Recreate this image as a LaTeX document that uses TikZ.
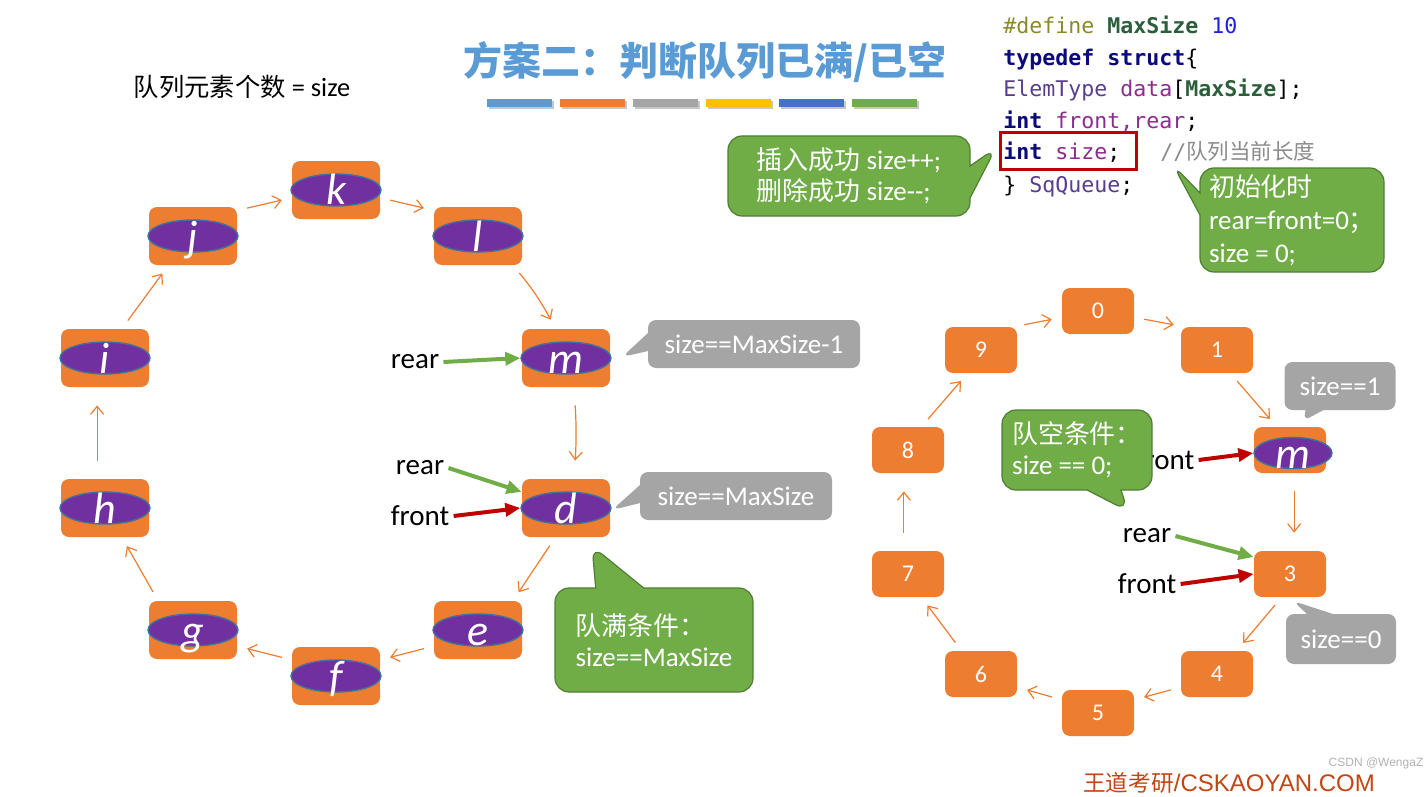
\documentclass[tikz,border=0pt]{standalone}
\usepackage{fontspec}
\setmainfont{Carlito}
\setmonofont{DejaVu Sans Mono}
\newfontfamily\cjk[Scale=0.96]{Noto Sans CJK SC}
\newfontfamily\webfont{Liberation Sans}
\usetikzlibrary{arrows.meta,shapes.geometric,shapes.callouts}
\definecolor{qorange}{HTML}{ED7D31}
\definecolor{qpurple}{HTML}{7030A0}
\definecolor{qedge}{HTML}{41719C}
\definecolor{qgray}{HTML}{A5A5A5}
\definecolor{qgreen}{HTML}{70AD47}
\definecolor{qgreenline}{HTML}{507E32}
\definecolor{qred}{HTML}{C00000}
\definecolor{qtitle}{HTML}{5B9BD5}
\definecolor{qgold}{HTML}{FFC000}
\definecolor{qblue}{HTML}{4472C4}
\definecolor{qbrand}{HTML}{C24614}
\definecolor{cdef}{HTML}{8A8A2A}
\definecolor{cname}{HTML}{2B5E3B}
\definecolor{cnum}{HTML}{1F1FE0}
\definecolor{ckw}{HTML}{0A0A7A}
\definecolor{ctype}{HTML}{5A3E8E}
\definecolor{cvar}{HTML}{8B2D8B}
\definecolor{ccmt}{HTML}{8C8C8C}

\begin{document}
\begin{tikzpicture}[x=0.5pt, y=-0.5pt, >={Straight Barb[length=4pt,width=6.5pt]},
  cell/.style={rectangle, rounded corners=4pt, fill=qorange, minimum width=44pt,
    minimum height=29pt, inner sep=0pt},
  slot/.style={rectangle, rounded corners=4pt, fill=qorange, minimum width=36pt,
    minimum height=23pt, inner sep=0pt, text=white, font=\fontsize{12}{12}\selectfont},
  elem/.style={ellipse, fill=qpurple, draw=qedge, line width=0.7pt, minimum width=45pt,
    minimum height=16pt, inner xsep=0pt, inner ysep=-2pt, text height=15pt, text depth=0pt,
    text=white, font=\itshape\fontsize{22}{22}\selectfont},
  link/.style={->, draw=qorange, line width=0.6pt, shorten <=5pt, shorten >=5pt},
  longlink/.style={link, shorten <=9pt, shorten >=9pt},
  ptr/.style={-{Triangle[length=7.5pt,width=6.5pt]}, line width=2pt},
  tag/.style={font=\fontsize{14.5}{14.5}\selectfont, inner sep=2pt},
  code/.style={anchor=base west, inner sep=0pt, font=\ttfamily\fontsize{10.8}{13}\selectfont},
  greynote/.style={rectangle callout, fill=qgray, text=white, rounded corners=4pt,
    inner sep=0pt, callout pointer width=9pt, font=\fontsize{13.5}{16}\selectfont},
  greennote/.style={rectangle callout, fill=qgreen, draw=qgreenline, line width=0.6pt,
    text=white, rounded corners=7pt, inner sep=0pt, align=left,
    font=\fontsize{13.5}{15.5}\selectfont}]

  \useasboundingbox (0,0) rectangle (1424,797);
  \fill[white] (0,0) rectangle (1424,797);

  % title with the colour bars
  \node[text=qtitle, font=\cjk\bfseries\fontsize{20.3}{20.3}\selectfont] (title) at (705,62)
    {方案二：判断队列已满/已空};
  \foreach \c [count=\k from 0] in {qtitle,qorange,qgray,qgold,qblue,qgreen}{
    \fill[black!22] (489+73*\k,101) rectangle ++(65,8);
    \fill[\c] (487+73*\k,99) rectangle ++(65,8);
  }
  \node[font=\fontsize{13.2}{13.2}\selectfont] (count) at (242,87) {{\cjk 队列元素个数} = size};

  % struct definition
  \node[code] (code1) at (1003,34) {{\color{cdef}\#define} {\bfseries\color{cname}MaxSize} {\color{cnum}10}};
  \node[code] (code2) at (1003,66) {{\bfseries\color{ckw}typedef struct}\{};
  \node[code] (code3) at (1003,97) {{\color{ctype}ElemType} {\color{cvar}data}[{\bfseries\color{cname}MaxSize}];};
  \node[code] (code4) at (1003,129) {{\bfseries\color{ckw}int} {\color{cvar}front,rear};};
  \node[code] (code5) at (1003,160) {{\bfseries\color{ckw}int} {\color{cvar}size};};
  \node[code, text=ccmt] (cmt) at (1160,160) {//{\cjk\fontsize{11.2}{13}\selectfont 队列当前长度}};
  \node[code] (code6) at (1003,192) {\} {\color{ctype}SqQueue};};
  \node[draw=qred, line width=1.5pt, minimum width=68pt, minimum height=18pt, inner sep=0pt]
    (hl) at (1068,151) {};

  % full queue: the ring of elements
  \foreach \ltr/\px/\py in {k/336/190, j/193/236, l/478/236, i/105/358, m/566/358,
      h/105/508, d/566/508, g/193/630, e/478/630, f/336/676}{
    \node[cell] (\ltr) at (\px,\py) {};
    \node[elem] (e\ltr) at (\ltr) {\ltr};
  }
  \draw[link] (j.30) -- (k.190);
  \draw[link] (k.-10) -- (l.150);
  \draw[link] (l.-40) to[bend left=6] (m.110);
  \draw[longlink] (m.-75) to[bend left=4] (d.75);
  \draw[link] (d.-110) -- (e.40);
  \draw[link] (e.200) -- (f.20);
  \draw[link] (f.160) -- (g.-20);
  \draw[link] (g.140) -- (h.-60);
  \draw[longlink] (h.105) -- (i.-105);
  \draw[link] (i.60) -- (j.-130);

  \node[tag] (rearM) at (415,362) {rear};
  \node[tag] (rearD) at (420,468) {rear};
  \node[tag] (frontD) at (420,516) {front};
  \draw[ptr, qgreen] (rearM.east) -- (em.west);
  \draw[ptr, qgreen] (rearD.east) -- (d.160);
  \draw[ptr, qred] (frontD.east) -- (ed.west);

  % empty queue: slots 0..9
  \foreach \ltr/\px/\py in {0/1098/311, 1/1217/350, 3/1290/574, 4/1217/674, 5/1098/713,
      6/981/674, 7/908/574, 8/908/450, 9/981/350}{
    \node[slot] (s\ltr) at (\px,\py) {\ltr};
  }
  \node[slot] (s2) at (1290,450) {};
  \node[elem, minimum width=39pt, minimum height=15pt] (em2) at (1293,453) {m};
  \draw[link] (s9.35) -- (s0.190);
  \draw[link] (s0.-10) -- (s1.145);
  \draw[link] (s1.-60) -- (s2.120);
  \draw[longlink] (s2.-80) -- (s3.80);
  \draw[link] (s3.-110) -- (s4.50);
  \draw[link] (s4.200) -- (s5.20);
  \draw[link] (s5.160) -- (s6.-20);
  \draw[link] (s6.130) -- (s7.-60);
  \draw[longlink] (s7.100) -- (s8.-100);
  \draw[link] (s8.60) -- (s9.-120);

  \node[tag] (front2) at (1165,460) {front};
  \node[tag] (rear3) at (1147,536) {rear};
  \node[tag] (front3) at (1147,584) {front};
  \draw[ptr, qred] (front2.east) -- (em2.west);
  \draw[ptr, qgreen] (rear3.east) -- (s3.155);
  \draw[ptr, qred] (front3.east) -- (s3.west);

  % callouts
  \node[greynote, minimum width=106pt, minimum height=24pt,
    callout absolute pointer={(622,357)}] (nearfull) at (754,344) {size==MaxSize-1};
  \node[greynote, minimum width=96pt, minimum height=24pt,
    callout absolute pointer={(612,510)}] (isfull) at (736,496) {size==MaxSize};
  \node[greynote, minimum width=55.5pt, minimum height=24pt,
    callout absolute pointer={(1303,421)}] (sizeone) at (1340,386) {size==1};
  \node[greynote, minimum width=55pt, minimum height=25pt, callout pointer width=13pt,
    callout absolute pointer={(1293,601)}] (sizezero) at (1341,639) {size==0};

  \node[greennote, minimum width=121pt, minimum height=40pt, callout pointer width=16pt,
    callout absolute pointer={(996,148)}] (update) at (849,176)
    {{\cjk 插入成功} size++;\\{\cjk 删除成功} size-{}-;};
  \node[greennote, minimum width=92pt, minimum height=52pt, callout pointer width=11pt,
    font=\fontsize{13.5}{16.5}\selectfont,
    callout absolute pointer={(1173,165)}] (init) at (1292,220)
    {{\cjk 初始化时}\\rear=front=0{\cjk ；}\\size = 0;};
  \node[greennote, minimum width=99pt, minimum height=52pt, callout pointer width=24pt,
    callout absolute pointer={(592,546)}] (fullcond) at (654,640)
    {{\cjk 队满条件：}\\size==MaxSize};
  \node[greennote, minimum width=75pt, minimum height=40pt, callout pointer width=17pt,
    callout absolute pointer={(1128,511)}] (emptycond) at (1077,450)
    {{\cjk 队空条件：}\\size == 0;};

  % footer
  \node[text=qbrand, font=\fontsize{12}{12}\selectfont] (brand) at (1229,783)
    {{\cjk\fontsize{11.8}{12}\selectfont 王道考研}{\webfont /CSKAOYAN.COM}};
  \node[text=black!30, font=\webfont\fontsize{6}{6}\selectfont] (wm) at (1376,763) {CSDN @WengaZ};
\end{tikzpicture}
\end{document}
